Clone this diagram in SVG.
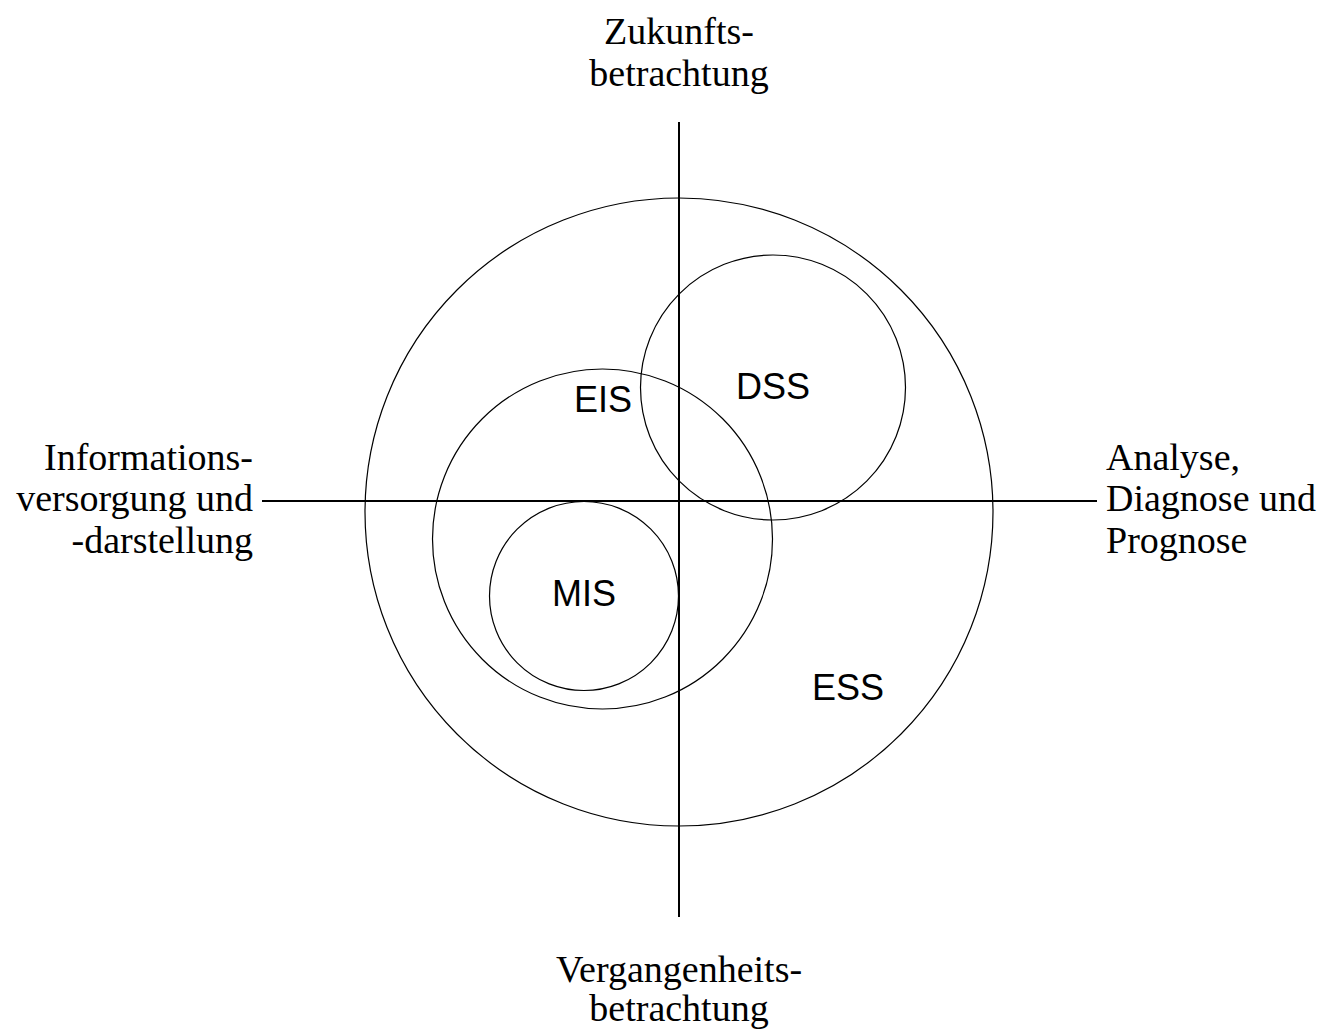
<svg xmlns="http://www.w3.org/2000/svg" width="1319" height="1033" viewBox="0 0 1319 1033">
<style>
.axis{stroke:#000;stroke-width:2;fill:none}
.c{stroke:#000;stroke-width:1.2;fill:none}
.s{font-family:"Liberation Serif","Times New Roman",serif;font-size:38px;fill:#000}
.a{font-family:"Liberation Sans",Arial,sans-serif;font-size:36px;fill:#000;text-anchor:middle}
</style>
<rect width="1319" height="1033" fill="#fff"/>
<g id="axes">
<line class="axis" x1="679" y1="122" x2="679" y2="917"/>
<line class="axis" x1="262" y1="501" x2="1097" y2="501"/>
</g>
<g id="ESS"><circle class="c" cx="679" cy="512" r="314"/><text class="a" x="848" y="700">ESS</text></g>
<g id="EIS"><circle class="c" cx="602.5" cy="539" r="170"/><text class="a" x="603" y="412">EIS</text></g>
<g id="DSS"><circle class="c" cx="773" cy="387.5" r="132.5"/><text class="a" x="773" y="399">DSS</text></g>
<g id="MIS"><circle class="c" cx="584" cy="596" r="94.5"/><text class="a" x="584" y="606">MIS</text></g>
<g id="top"><text class="s" text-anchor="middle" x="679" y="44">Zukunfts-</text><text class="s" text-anchor="middle" x="679" y="86">betrachtung</text></g>
<g id="bottom"><text class="s" text-anchor="middle" x="679" y="982">Vergangenheits-</text><text class="s" text-anchor="middle" x="679" y="1021">betrachtung</text></g>
<g id="left"><text class="s" text-anchor="end" x="253" y="470">Informations-</text><text class="s" text-anchor="end" x="253" y="511">versorgung und</text><text class="s" text-anchor="end" x="253" y="553">-darstellung</text></g>
<g id="right"><text class="s" x="1106" y="470">Analyse,</text><text class="s" x="1106" y="511">Diagnose und</text><text class="s" x="1106" y="553">Prognose</text></g>
</svg>
